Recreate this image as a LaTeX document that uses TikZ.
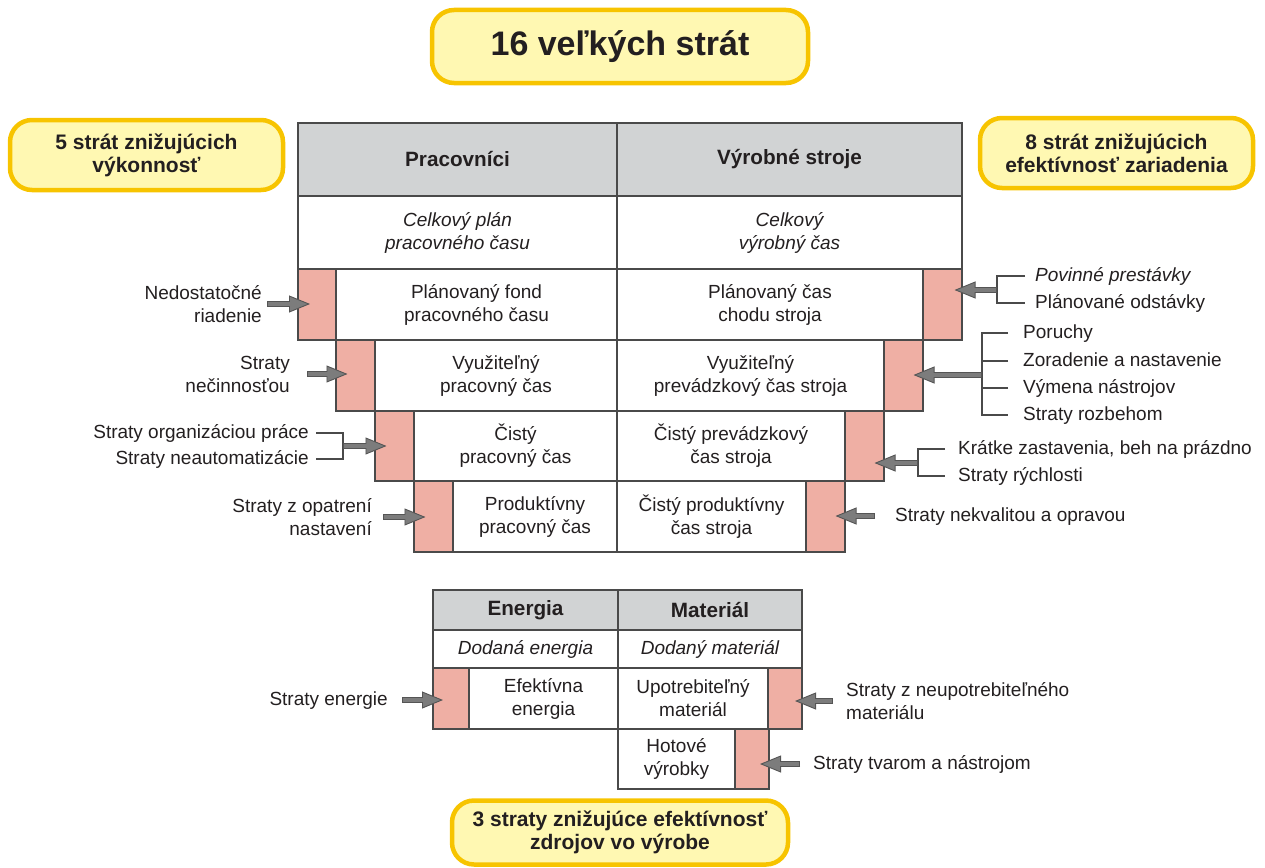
\documentclass[tikz,border=0pt]{standalone}
\usepackage{fontspec}
\setmainfont{Liberation Sans}
\usetikzlibrary{arrows.meta,calc}

\definecolor{hdr}{HTML}{D1D3D4}
\definecolor{pinkc}{HTML}{EFAFA4}
\definecolor{bord}{HTML}{4A4A4A}
\definecolor{txt}{HTML}{231F20}
\definecolor{arrfill}{HTML}{7C7C7C}
\definecolor{arrline}{HTML}{555555}
\definecolor{yfill}{HTML}{FFF8B2}
\definecolor{ybord}{HTML}{F7C400}

\newcommand{\bodyfont}{\fontsize{19}{23}\selectfont}
\newcommand{\headfont}{\fontsize{20.7}{23}\selectfont\bfseries}
\newcommand{\capfont}{\fontsize{21}{23}\selectfont\bfseries}

\tikzset{
  cell/.style={draw=bord, line width=1.2pt, inner sep=0pt, align=center,
    text=txt, font=\bodyfont},
  hcell/.style={cell, fill=hdr, font=\headfont},
  icell/.style={cell, font=\bodyfont\itshape},
  pcell/.style={draw=bord, line width=1.2pt, fill=pinkc, inner sep=0pt},
  ybox/.style={draw=ybord, fill=yfill, line width=4.5pt, rounded corners=22pt,
    inner sep=0pt, align=center, text=txt, font=\capfont},
  lbl/.style={inner sep=0pt, text=txt, font=\bodyfont, text height=14pt, text depth=4pt},
  lblr/.style={lbl, anchor=east, align=right},
  lbll/.style={lbl, anchor=west, align=left},
  mlr/.style={inner sep=0pt, text=txt, font=\bodyfont, anchor=east, align=right},
  mll/.style={inner sep=0pt, text=txt, font=\bodyfont, anchor=west, align=left},
  brk/.style={draw=bord, line width=1.3pt},
  bigarrow/.style={draw=arrline, line width=6.4pt,
    -{Triangle[length=21pt,width=17pt,line width=0.9pt,fill=arrfill]},
    postaction={draw=arrfill, line width=4.2pt, -, shorten >=19pt, shorten <=0.9pt}},
}

\begin{document}
\begin{tikzpicture}[x=1pt,y=-1pt]
\useasboundingbox (0,0) rectangle (1265,867);

% yellow captions
\node[ybox, minimum width=376pt, minimum height=73pt, font=\fontsize{34}{38}\selectfont\bfseries]
  (title) at (620,46.5) {16 veľkých strát};
\node[ybox, minimum width=273pt, minimum height=70pt] (capl) at (146.5,155)
  {5 strát znižujúcich\\výkonnosť};
\node[ybox, minimum width=273pt, minimum height=70pt] (capr) at (1116.5,153)
  {8 strát znižujúcich\\efektívnosť zariadenia};
\node[ybox, minimum width=336pt, minimum height=64pt] (capb) at (620,832.5)
  {3 straty znižujúce efektívnosť\\zdrojov vo výrobe};

% main table: header and total time
\node[hcell, minimum width=319pt, minimum height=73pt] (h1) at (457.5,159.5) {Pracovníci};
\node[hcell, minimum width=345pt, minimum height=73pt] (h2) at (789.5,159.5) {Výrobné stroje};
\node[icell, minimum width=319pt, minimum height=73pt] (t1) at (457.5,232.5) {Celkový plán\\pracovného času};
\node[icell, minimum width=345pt, minimum height=73pt] (t2) at (789.5,232.5) {Celkový\\výrobný čas};

% row 3
\node[pcell, minimum width=38pt, minimum height=71pt] (p3l) at (317,304.5) {};
\node[cell, minimum width=281pt, minimum height=71pt] (w3l) at (476.5,304.5) {Plánovaný fond\\pracovného času};
\node[cell, minimum width=306pt, minimum height=71pt] (w3r) at (770,304.5) {Plánovaný čas\\chodu stroja};
\node[pcell, minimum width=39pt, minimum height=71pt] (p3r) at (942.5,304.5) {};

% row 4
\node[pcell, minimum width=39pt, minimum height=71pt] (p4l) at (355.5,375.5) {};
\node[cell, minimum width=242pt, minimum height=71pt] (w4l) at (496,375.5) {Využiteľný\\pracovný čas};
\node[cell, minimum width=267pt, minimum height=71pt] (w4r) at (750.5,375.5) {Využiteľný\\prevádzkový čas stroja};
\node[pcell, minimum width=39pt, minimum height=71pt] (p4r) at (903.5,375.5) {};

% row 5
\node[pcell, minimum width=39pt, minimum height=70pt] (p5l) at (394.5,446) {};
\node[cell, minimum width=203pt, minimum height=70pt] (w5l) at (515.5,446) {Čistý\\pracovný čas};
\node[cell, minimum width=228pt, minimum height=70pt] (w5r) at (731,446) {Čistý prevádzkový\\čas stroja};
\node[pcell, minimum width=39pt, minimum height=70pt] (p5r) at (864.5,446) {};

% row 6
\node[pcell, minimum width=39pt, minimum height=71pt] (p6l) at (433.5,516.5) {};
\node[cell, minimum width=164pt, minimum height=71pt] (w6l) at (535,516.5) {Produktívny\\pracovný čas};
\node[cell, minimum width=189pt, minimum height=71pt] (w6r) at (711.5,516.5) {Čistý produktívny\\čas stroja};
\node[pcell, minimum width=39pt, minimum height=71pt] (p6r) at (825.5,516.5) {};

% resources table
\node[hcell, minimum width=185pt, minimum height=40pt] (he) at (525.5,610) {Energia};
\node[hcell, minimum width=184pt, minimum height=40pt] (hm) at (710,610) {Materiál};
\node[icell, minimum width=185pt, minimum height=38pt] (de) at (525.5,649) {Dodaná energia};
\node[icell, minimum width=184pt, minimum height=38pt] (dm) at (710,649) {Dodaný materiál};
\node[pcell, minimum width=36pt, minimum height=61pt] (pel) at (451,698.5) {};
\node[cell, minimum width=149pt, minimum height=61pt] (we) at (543.5,698.5) {Efektívna\\energia};
\node[cell, minimum width=150pt, minimum height=61pt] (wm) at (693,698.5) {Upotrebiteľný\\materiál};
\node[pcell, minimum width=34pt, minimum height=61pt] (pmr) at (785,698.5) {};
\node[cell, minimum width=117pt, minimum height=60pt] (wh) at (676.5,759) {Hotové\\výrobky};
\node[pcell, minimum width=34pt, minimum height=60pt] (phr) at (752,759) {};

% losses of the workers (left)
\node[mlr] (l3) at (262,304) {Nedostatočné\\riadenie};
\node[mlr] (l4) at (290,374) {Straty\\nečinnosťou};
\node[lblr] (l5a) at (309,433) {Straty organizáciou práce};
\node[lblr] (l5b) at (309,459) {Straty neautomatizácie};
\coordinate (j5) at (343,446);
\node[mlr] (l6) at (372,517) {Straty z opatrení\\nastavení};

\draw[bigarrow] ([xshift=5pt]l3.east) -- ($(l3.east -| p3l.center)+(-7,0)$);
\draw[bigarrow] ([xshift=17pt]l4.east) -- ($(l4.east -| p4l.center)+(-8,0)$);
\draw[brk] ([xshift=7pt]l5a.east) -| (j5) |- ([xshift=7pt]l5b.east);
\draw[bigarrow] (j5) -- ($(j5 -| p5l.center)+(-8,0)$);
\draw[bigarrow] ([xshift=11pt]l6.east) -- ($(l6.east -| p6l.center)+(-8,0)$);

% losses of the machines (right)
\node[lbll, font=\bodyfont\itshape] (r3a) at (1035,276) {Povinné prestávky};
\node[lbll] (r3b) at (1035,303) {Plánované odstávky};
\coordinate (j3) at (997,290);
\draw[brk] ([xshift=-10pt]r3a.west) -| (j3) |- ([xshift=-10pt]r3b.west);
\draw[bigarrow] (j3) -- ($(j3 -| p3r.center)+(12,0)$);

\node[lbll] (r4a) at (1023,333) {Poruchy};
\node[lbll] (r4b) at (1023,361) {Zoradenie a nastavenie};
\node[lbll] (r4c) at (1023,388) {Výmena nástrojov};
\node[lbll] (r4d) at (1023,415) {Straty rozbehom};
\coordinate (j4) at (982,375);
\draw[brk] ([xshift=-15pt]r4a.west) -| (j4) |- ([xshift=-15pt]r4d.west);
\draw[brk] ([xshift=-15pt]r4b.west) -- (j4 |- r4b.west);
\draw[brk] ([xshift=-15pt]r4c.west) -- (j4 |- r4c.west);
\draw[bigarrow] (j4) -- ($(j4 -| p4r.center)+(10,0)$);

\node[lbll] (r5a) at (958,449) {Krátke zastavenia, beh na prázdno};
\node[lbll] (r5b) at (958,476) {Straty rýchlosti};
\coordinate (j5r) at (918,463);
\draw[brk] ([xshift=-13pt]r5a.west) -| (j5r) |- ([xshift=-13pt]r5b.west);
\draw[bigarrow] (j5r) -- ($(j5r -| p5r.center)+(10,0)$);

\node[lbll] (r6) at (895,516) {Straty nekvalitou a opravou};
\draw[bigarrow] ([xshift=-20pt]r6.west) -- ($(r6.west -| p6r.center)+(10,0)$);

% losses of the resources
\node[lblr] (le) at (388,700) {Straty energie};
\draw[bigarrow] ([xshift=14pt]le.east) -- ($(le.east -| pel.center)+(-8,0)$);

\node[mll] (rm) at (846,701) {Straty z neupotrebiteľného\\materiálu};
\draw[bigarrow] ([xshift=-13pt]rm.west) -- ($(rm.west -| pmr.center)+(10,0)$);

\node[lbll] (rh) at (813,764) {Straty tvarom a nástrojom};
\draw[bigarrow] ([xshift=-13pt]rh.west) -- ($(rh.west -| phr.center)+(8,0)$);
\end{tikzpicture}
\end{document}
